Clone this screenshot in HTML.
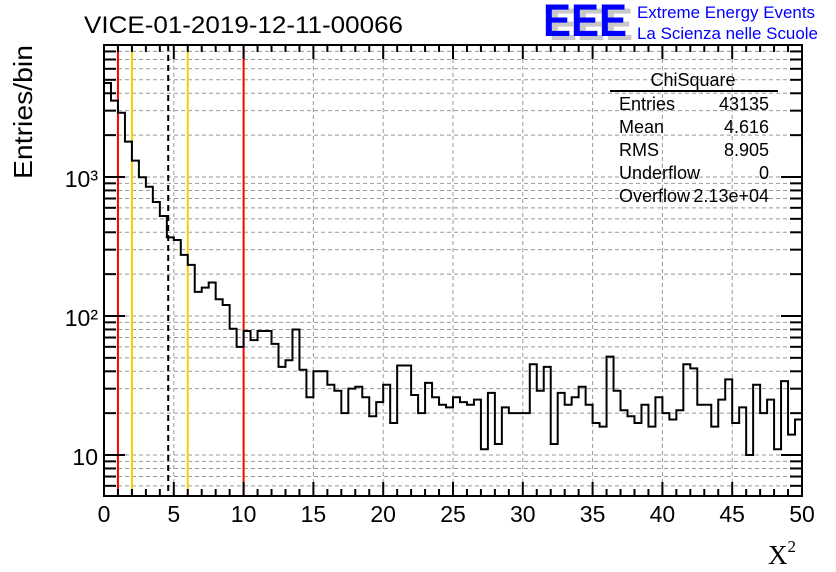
<!DOCTYPE html>
<html><head><meta charset="utf-8"><style>
html,body{margin:0;padding:0;background:#fff}
svg{display:block;font-family:"Liberation Sans",sans-serif}
</style></head><body>
<svg id="chart" width="836" height="572" viewBox="0 0 836 572" xmlns="http://www.w3.org/2000/svg">
<rect width="836" height="572" fill="#fff"/>
<g id="grid"></g>
<g id="vlines"></g>
<path id="hist" fill="none" stroke="#000" stroke-width="2"/>
<g id="axes"></g>
<text x="84" y="33" font-size="24" textLength="319" lengthAdjust="spacingAndGlyphs">VICE-01-2019-12-11-00066</text>
<text transform="translate(32,179) rotate(-90)" font-size="26" textLength="134" lengthAdjust="spacingAndGlyphs">Entries/bin</text>
<text x="768" y="564" font-size="27" font-family="Liberation Serif, serif">X<tspan font-size="17" dy="-12">2</tspan></text>
<g>
<text x="549" y="40" font-size="45" font-weight="bold" fill="#c8c8c8" textLength="84" lengthAdjust="spacingAndGlyphs">EEE</text>
<text x="543" y="36" font-size="45" font-weight="bold" fill="#0000ff" textLength="84" lengthAdjust="spacingAndGlyphs">EEE</text>
<text x="637" y="18" font-size="16.5" fill="#0000ff" textLength="178" lengthAdjust="spacingAndGlyphs">Extreme Energy Events</text>
<text x="637" y="39" font-size="16.5" fill="#0000ff" textLength="181" lengthAdjust="spacingAndGlyphs">La Scienza nelle Scuole</text>
</g>
<g font-size="18">
<text x="693" y="86" text-anchor="middle">ChiSquare</text>
<line x1="610" y1="91" x2="778" y2="91" stroke="#000" stroke-width="2"/>
<text x="619" y="110">Entries</text><text x="769" y="110" text-anchor="end">43135</text>
<text x="619" y="133">Mean</text><text x="769" y="133" text-anchor="end">4.616</text>
<text x="619" y="156">RMS</text><text x="769" y="156" text-anchor="end">8.905</text>
<text x="619" y="179">Underflow</text><text x="769" y="179" text-anchor="end">0</text>
<text x="619" y="202">Overflow</text><text x="769" y="202" text-anchor="end">2.13e+04</text>
</g>
</svg>
<script>
const binEdgesStart = 0;
const binWidth = 0.5;
const counts = [4740,3540,2900,1795,1310,995,851,660,524,368,352,275,233,149,160,174,132,120,81,60,78,67,78,78,63,43,48,80,41,26,
40,40,32,29,20,30,31,26,19,24,32,17,44,44,27,20,33,26,23,22,26,24,23,25,11,28,12,22,20,20,
20,45,29,43,12,28,23,26,31,23,17,16,51,29,21,19,17,23,16,26,20,18,21,45,42,23,23,16,25,35,
17,22,10,32,20,25,11,34,14,18];
const xTicks = [0,5,10,15,20,25,30,35,40,45,50];
const yTicks = [10,100,1000];
const yTickLabels = ["10","10²","10³"];
const cutLines = [1,2,4.6,6,10];
const cutColors = ["#ff0000","#ffcc00","#000000","#ffcc00","#ff0000"];

const X0=104,X1=802,Y0=496,Y1=45;
const xMin=0,xMax=50,yMin=Math.log10(5.07),yMax=Math.log10(8900);
const sx=v=>X0+(v-xMin)/(xMax-xMin)*(X1-X0);
const sy=v=>Y0-(Math.log10(v)-yMin)/(yMax-yMin)*(Y0-Y1);
const NS="http://www.w3.org/2000/svg";
function mk(tag,attrs,parent){const e=document.createElementNS(NS,tag);for(const k in attrs)e.setAttribute(k,attrs[k]);parent.appendChild(e);return e;}
const grid=document.getElementById('grid'),axes=document.getElementById('axes'),vl=document.getElementById('vlines');
for(const t of xTicks){if(t===xMin||t===xMax)continue;
 const l=mk('line',{x1:sx(t),x2:sx(t),y1:Y1,y2:Y0,stroke:'#999','stroke-dasharray':'4,3','stroke-width':1},grid);
 
 }
const logTicks=[];
for(let d=1;d<=1000;d*=10)for(let m=1;m<10;m++){const v=d*m;if(v>=5.07&&v<=8900)logTicks.push(v);}
for(const v of logTicks){
 const l=mk('line',{x1:X0,x2:X1,y1:sy(v),y2:sy(v),stroke:'#999','stroke-dasharray':'4,3','stroke-width':1},grid);
 
 
 const major=[10,100,1000].includes(v);const len=major?21:12;
 mk('line',{x1:X0,x2:X0+len,y1:sy(v),y2:sy(v),stroke:'#000','stroke-width':2},axes);
 mk('line',{x1:X1,x2:X1-len,y1:sy(v),y2:sy(v),stroke:'#000','stroke-width':2},axes);
}
cutLines.forEach((c,i)=>{const l=mk('line',{x1:sx(c),x2:sx(c),y1:Y1,y2:Y0,stroke:cutColors[i],'stroke-width':2},vl);
 if(cutColors[i]==="#000000")l.setAttribute('stroke-dasharray','6,4');
 
 });
let d='';
counts.forEach((c,i)=>{const xa=sx(binEdgesStart+i*binWidth),xb=sx(binEdgesStart+(i+1)*binWidth),y=sy(c);
 d+=(i===0?`M${xa},${y}`:`L${xa},${y}`)+`L${xb},${y}`;});
document.getElementById('hist').setAttribute('d',d);
const fr=mk('rect',{x:X0,y:Y1,width:X1-X0,height:Y0-Y1,fill:'none',stroke:'#000','stroke-width':2},axes);


for(let v=0;v<=50;v++){const major=v%5===0;const len=major?14:7;
 mk('line',{x1:sx(v),x2:sx(v),y1:Y0,y2:Y0-len,stroke:'#000','stroke-width':2},axes);
 mk('line',{x1:sx(v),x2:sx(v),y1:Y1,y2:Y1+len,stroke:'#000','stroke-width':2},axes);}
for(const t of xTicks){const tx=mk('text',{x:sx(t),y:522,'text-anchor':'middle','font-size':23},axes);tx.textContent=t;
 
 }
yTicks.forEach((t,i)=>{const tx=mk('text',{x:X0-6,y:sy(t)+10,'text-anchor':'end','font-size':23},axes);
 tx.textContent=yTickLabels[i];
 
 });
</script>
</body></html>
